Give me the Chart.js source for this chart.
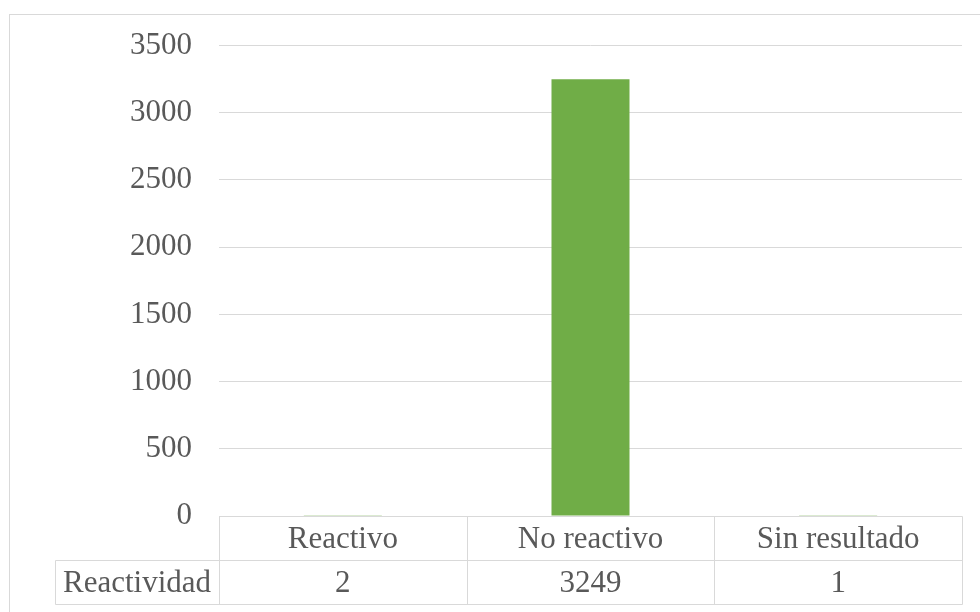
<!DOCTYPE html>
<html>
<head>
<meta charset="utf-8">
<script src="https://cdn.jsdelivr.net/npm/chart.js@4"></script>
<style>
  html, body { margin: 0; padding: 0; background: #ffffff; }
  #c { display: block; }
</style>
</head>
<body>
<canvas id="c" width="980" height="612"></canvas>
<script>
// Resultados de reactividad
const categories = ['Reactivo', 'No reactivo', 'Sin resultado'];
const seriesName = 'Reactividad';
const reactividad = [2, 3249, 1];
const yMin = 0;
const yMax = 3500;
const yStep = 500;

const FONT = '"Liberation Serif", "Times New Roman", serif';
const TEXT = '#595959';
const LINE = '#d9d9d9';
const FONT_SIZE = 31;
const ROW_H = 44;
const HEADER_LEFT = 55;

// Outer frame of the chart object
const framePlugin = {
  id: 'frame',
  beforeDraw(chart) {
    const ctx = chart.ctx;
    ctx.save();
    ctx.fillStyle = '#ffffff';
    ctx.fillRect(0, 0, chart.width, chart.height);
    ctx.strokeStyle = LINE;
    ctx.lineWidth = 1;
    ctx.strokeRect(9.5, 14.5, chart.width + 20, chart.height + 20);
    ctx.restore();
  }
};

// Data table drawn under the plot, aligned to the category scale
const dataTablePlugin = {
  id: 'dataTable',
  afterDraw(chart) {
    const ctx = chart.ctx;
    const x = chart.scales.x;
    const area = chart.chartArea;
    const top = Math.round(area.bottom) + 0.5;
    const mid = top + ROW_H;
    const bot = mid + ROW_H;
    const left = Math.round(area.left) + 0.5;
    const right = Math.round(area.right) + 0.5;
    const n = categories.length;
    const cellW = (area.right - area.left) / n;

    ctx.save();
    ctx.strokeStyle = LINE;
    ctx.lineWidth = 1;
    ctx.beginPath();
    // horizontal rules
    ctx.moveTo(left, top); ctx.lineTo(right, top);
    ctx.moveTo(HEADER_LEFT + 0.5, mid); ctx.lineTo(right, mid);
    ctx.moveTo(HEADER_LEFT + 0.5, bot); ctx.lineTo(right, bot);
    // vertical rules between categories
    for (let i = 0; i <= n; i++) {
      const xv = Math.round(area.left + i * cellW) + 0.5;
      ctx.moveTo(xv, top); ctx.lineTo(xv, bot);
    }
    // series name cell
    ctx.moveTo(HEADER_LEFT + 0.5, mid); ctx.lineTo(HEADER_LEFT + 0.5, bot);
    ctx.stroke();

    ctx.fillStyle = TEXT;
    ctx.font = FONT_SIZE + 'px ' + FONT;
    ctx.textAlign = 'center';
    ctx.textBaseline = 'middle';
    categories.forEach((cat, i) => {
      const cx = x.getPixelForValue(i);
      ctx.fillText(cat, cx, top + ROW_H / 2 + 1);
      ctx.fillText(String(reactividad[i]), cx, mid + ROW_H / 2 + 1);
    });
    ctx.fillText(seriesName, (HEADER_LEFT + area.left) / 2, mid + ROW_H / 2 + 1);
    ctx.restore();
  }
};

new Chart(document.getElementById('c'), {
  type: 'bar',
  data: {
    labels: categories,
    datasets: [{
      label: seriesName,
      data: reactividad,
      backgroundColor: '#70ad47',
      borderWidth: 0,
      categoryPercentage: 1.0,
      barPercentage: 0.315
    }]
  },
  options: {
    responsive: false,
    animation: false,
    devicePixelRatio: 1,
    layout: { padding: { left: 0, right: 18, top: 44, bottom: 96 } },
    plugins: {
      legend: { display: false },
      tooltip: { enabled: false },
      title: { display: false }
    },
    scales: {
      x: {
        display: false
      },
      y: {
        min: yMin,
        max: yMax,
        afterFit(scale) { scale.width = 219; },
        ticks: {
          stepSize: yStep,
          color: TEXT,
          padding: 27,
          font: { family: FONT, size: FONT_SIZE },
          callback: (v) => String(v)
        },
        grid: {
          color: LINE,
          lineWidth: 1,
          drawTicks: false
        },
        border: { display: false }
      }
    }
  },
  plugins: [framePlugin, dataTablePlugin]
});
</script>
</body>
</html>
